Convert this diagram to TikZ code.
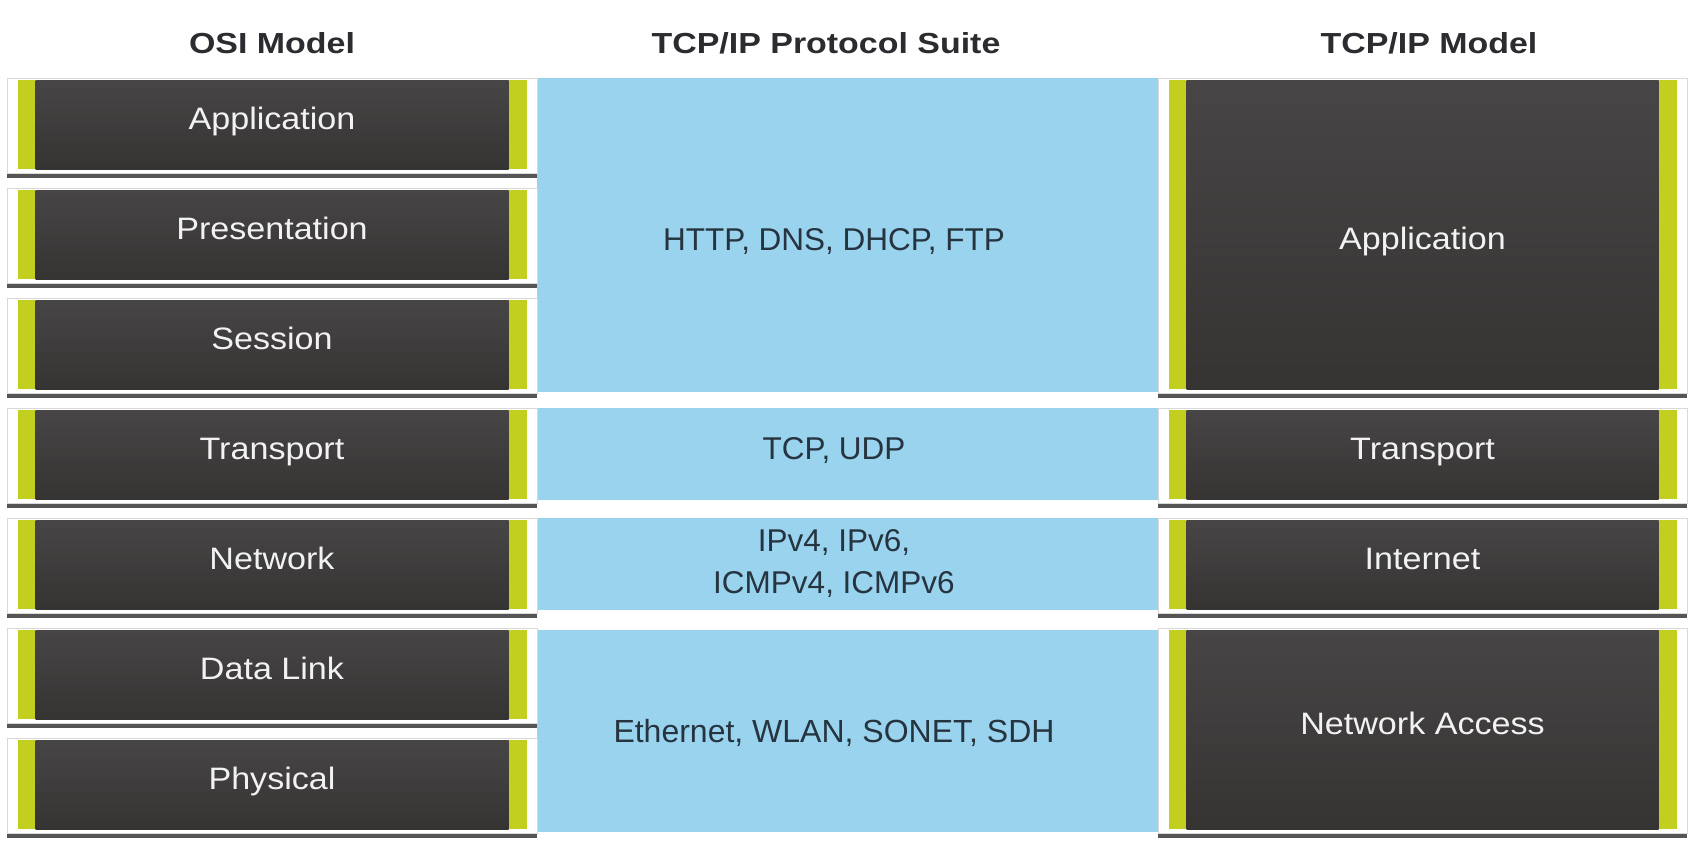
\documentclass[tikz,border=0pt]{standalone}
\usepackage{fontspec}
\setmainfont{Liberation Sans}
\usepackage{graphicx}
\definecolor{lgreen}{HTML}{C3CF1F}
\definecolor{dtop}{HTML}{474545}
\definecolor{dbot}{HTML}{363333}
\definecolor{sky}{HTML}{9AD3EE}
\definecolor{hdrc}{HTML}{2B2B30}
\definecolor{prot}{HTML}{263440}
\definecolor{lbl}{HTML}{F2F2F2}
\definecolor{shd}{HTML}{555555}
\newcommand\wx[1]{\scalebox{1.1}[1]{#1}}
\newcommand\hx[1]{\scalebox{1.17}[1]{#1}}
\tikzset{
  band/.style={rectangle, minimum width=648pt, inner sep=0pt,
    path picture={\fill[sky] ([xshift=27pt]path picture bounding box.south west)
      rectangle (path picture bounding box.north east);},
    text=prot, font=\fontsize{31.5}{42}\selectfont, align=center},
  oneline/.style={text height=22.5pt, text depth=0pt},
  layer/.style={rectangle, inner sep=0pt, fill=white, draw=black!15, line width=0.5pt,
    preaction={fill=shd, draw=none, transform canvas={yshift=-5pt}},
    path picture={
      \fill[lgreen] ([xshift=10.5pt,yshift=-2pt]path picture bounding box.north west)
        rectangle ([xshift=-10.5pt,yshift=4pt]path picture bounding box.south east);
      \shade[top color=dtop, bottom color=dbot]
        ([xshift=28.5pt,yshift=-2pt]path picture bounding box.north west)
        rectangle ([xshift=-28.5pt,yshift=4pt]path picture bounding box.south east);
    },
    text=lbl, font=\fontsize{31}{36}\selectfont, text height=24pt, text depth=16pt},
  osibox/.style={layer, minimum width=530pt, minimum height=95pt},
  tcpbox/.style={layer, minimum width=529pt},
  hdr/.style={font=\bfseries\fontsize{29}{34}\selectfont, text=hdrc,
    text height=20.5pt, text depth=0pt, inner sep=0pt}
}
\begin{document}
\begin{tikzpicture}[x=1pt,y=1pt]
\useasboundingbox[fill=white] (0,0) rectangle (1699,-846);
% headers
\node[hdr] (h1) at (272,-43) {\hx{OSI Model}};
\node[hdr] (h2) at (826,-43) {\hx{TCP/IP Protocol Suite}};
\node[hdr] (h3) at (1429,-43) {\hx{TCP/IP Model}};
% protocol suite bands
\node[band, text height=30pt, text depth=0pt, minimum height=314pt] (p1) at (834,-235) {HTTP, DNS, DHCP, FTP};
\node[band, text height=22.5pt, text depth=12.5pt, minimum height=92pt] (p2) at (834,-454) {TCP, UDP};
\node[band, minimum height=92pt] (p3) at (834,-564) {IPv4, IPv6,\\ICMPv4, ICMPv6};
\node[band, oneline, minimum height=202pt] (p4) at (834,-731) {\fontsize{32}{42}\selectfont Ethernet, WLAN, SONET, SDH};
% OSI model
\node[osibox] (o7) at (272,-125.5) {\wx{Application}};
\node[osibox] (o6) at (272,-235.5) {\wx{Presentation}};
\node[osibox] (o5) at (272,-345.5) {\wx{Session}};
\node[osibox] (o4) at (272,-455.5) {\wx{Transport}};
\node[osibox] (o3) at (272,-565.5) {\wx{Network}};
\node[osibox] (o2) at (272,-675.5) {\wx{Data Link}};
\node[osibox] (o1) at (272,-785.5) {\wx{Physical}};
% TCP/IP model
\node[tcpbox, minimum height=315pt, text height=27pt, text depth=0pt] (t4) at (1422.5,-235.5) {\wx{Application}};
\node[tcpbox, minimum height=95pt] (t3) at (1422.5,-455.5) {\wx{Transport}};
\node[tcpbox, minimum height=95pt] (t2) at (1422.5,-565.5) {\wx{Internet}};
\node[tcpbox, minimum height=205pt] (t1) at (1422.5,-730.5) {\wx{Network Access}};
\end{tikzpicture}
\end{document}
